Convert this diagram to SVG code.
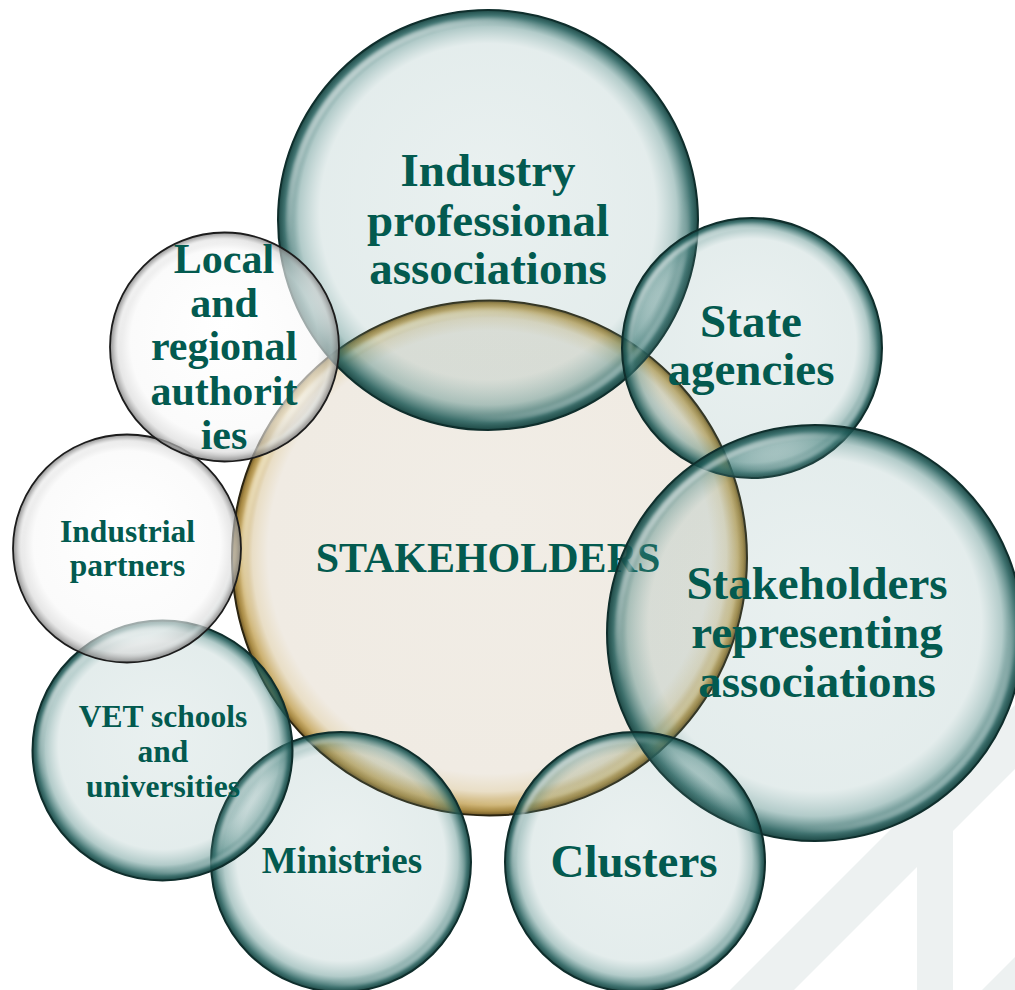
<svg xmlns="http://www.w3.org/2000/svg" width="1015" height="990" viewBox="0 0 1015 990">
<defs>
<style>
.lbl{font-family:"Liberation Serif","Times New Roman","DejaVu Serif",serif;font-weight:bold;fill:#035a4f;text-anchor:middle}
.teal{fill:url(#gTeal);stroke:#0f2e2c;stroke-width:2}
.white{fill:url(#gWhite);stroke:#1c1c1c;stroke-width:1.8}
.gold{fill:url(#gGold);stroke:#2b2410;stroke-width:2}
.hl{fill:none;stroke:url(#gHl);filter:url(#soft)}
.hlg{fill:none;stroke:url(#gHlGold);filter:url(#soft)}
.wm{fill:#edf1f1}
</style>
<radialGradient id="gTeal" cx="50%" cy="50%" r="50%" fx="50%" fy="40%">
<stop offset="0" stop-color="#6e9d9a" stop-opacity="0.15"/>
<stop offset="0.8" stop-color="#5f9390" stop-opacity="0.17"/>
<stop offset="0.9" stop-color="#3f7d79" stop-opacity="0.4"/>
<stop offset="0.97" stop-color="#1d5956" stop-opacity="0.85"/>
<stop offset="1" stop-color="#123f3c" stop-opacity="0.95"/>
</radialGradient>
<radialGradient id="gWhite" cx="50%" cy="50%" r="50%" fx="50%" fy="40%">
<stop offset="0" stop-color="#ffffff" stop-opacity="0.6"/>
<stop offset="0.82" stop-color="#f8f8f8" stop-opacity="0.62"/>
<stop offset="0.93" stop-color="#d6d6d6" stop-opacity="0.6"/>
<stop offset="1" stop-color="#7d7d7d" stop-opacity="0.85"/>
</radialGradient>
<radialGradient id="gGold" cx="50%" cy="50%" r="50%" fx="50%" fy="42%">
<stop offset="0" stop-color="#f1ede6"/>
<stop offset="0.86" stop-color="#f0ebe3"/>
<stop offset="0.92" stop-color="#e9dec6"/>
<stop offset="0.965" stop-color="#cdb273"/>
<stop offset="0.985" stop-color="#a98b45"/>
<stop offset="1" stop-color="#6e5727"/>
</radialGradient>
<linearGradient id="gHl" x1="0" y1="0" x2="1" y2="1">
<stop offset="0" stop-color="#ffffff" stop-opacity="0.9"/>
<stop offset="0.32" stop-color="#ffffff" stop-opacity="0"/>
<stop offset="0.72" stop-color="#ffffff" stop-opacity="0"/>
<stop offset="1" stop-color="#e8ffff" stop-opacity="0.7"/>
</linearGradient>
<linearGradient id="gHlGold" x1="0" y1="0" x2="1" y2="1">
<stop offset="0" stop-color="#fffbe6" stop-opacity="0.95"/>
<stop offset="0.35" stop-color="#fffbe6" stop-opacity="0"/>
<stop offset="0.72" stop-color="#fffbe6" stop-opacity="0"/>
<stop offset="1" stop-color="#fffbe6" stop-opacity="0.6"/>
</linearGradient>
<filter id="soft" x="-10%" y="-10%" width="120%" height="120%"><feGaussianBlur stdDeviation="1.6"/></filter>
</defs>

<g id="watermark">
<polygon class="wm" points="730,990 794,990 1015,769 1015,705"/>
<rect class="wm" x="917" y="812" width="36" height="178"/>
<polygon class="wm" points="982,990 1015,990 1015,957"/>
</g>

<g id="connectors"></g>

<g id="node-stakeholders">
<circle class="gold" cx="489.5" cy="558" r="257.5"/>
<circle class="hlg" cx="489.5" cy="558" r="246" stroke-width="6"/>
<text class="lbl" font-family="Liberation Serif, serif" x="488" y="572" font-size="42">STAKEHOLDERS</text>
</g>

<g id="node-industry">
<circle class="teal" cx="488" cy="220" r="210"/>
<circle class="hl" cx="488" cy="220" r="199" stroke-width="6"/>
<text class="lbl" font-family="Liberation Serif, serif" font-size="47"><tspan x="488" y="186">Industry</tspan><tspan x="488" y="236">professional</tspan><tspan x="488" y="284">associations</tspan></text>
</g>

<g id="node-state">
<circle class="teal" cx="752" cy="348" r="130"/>
<circle class="hl" cx="752" cy="348" r="122" stroke-width="5"/>
<text class="lbl" font-family="Liberation Serif, serif" font-size="47"><tspan x="751" y="337">State</tspan><tspan x="751" y="385">agencies</tspan></text>
</g>

<g id="node-representing">
<circle class="teal" cx="815" cy="633" r="208"/>
<circle class="hl" cx="815" cy="633" r="197" stroke-width="6"/>
<text class="lbl" font-family="Liberation Serif, serif" font-size="47"><tspan x="817" y="599">Stakeholders</tspan><tspan x="817" y="648">representing</tspan><tspan x="817" y="697">associations</tspan></text>
</g>

<g id="node-clusters">
<circle class="teal" cx="635" cy="862" r="130"/>
<circle class="hl" cx="635" cy="862" r="122" stroke-width="5"/>
<text class="lbl" font-family="Liberation Serif, serif" x="634" y="877" font-size="47">Clusters</text>
</g>

<g id="node-ministries">
<circle class="teal" cx="341" cy="862" r="130"/>
<circle class="hl" cx="341" cy="862" r="122" stroke-width="5"/>
<text class="lbl" font-family="Liberation Serif, serif" x="342" y="873" font-size="37">Ministries</text>
</g>

<g id="node-vet">
<circle class="teal" cx="162.5" cy="750.5" r="130"/>
<circle class="hl" cx="162.5" cy="750.5" r="122" stroke-width="5"/>
<text class="lbl" font-family="Liberation Serif, serif" font-size="31.5"><tspan x="163" y="727">VET schools</tspan><tspan x="163" y="762">and</tspan><tspan x="163" y="797">universities</tspan></text>
</g>

<g id="node-industrial-partners">
<circle class="white" cx="127" cy="548.5" r="114"/>
<circle class="hl" cx="127" cy="548.5" r="107" stroke-width="4"/>
<text class="lbl" font-family="Liberation Serif, serif" font-size="31.5"><tspan x="127.5" y="542">Industrial</tspan><tspan x="127.5" y="576">partners</tspan></text>
</g>

<g id="node-local">
<circle class="white" cx="224.5" cy="347" r="114.5"/>
<circle class="hl" cx="224.5" cy="347" r="107" stroke-width="4"/>
<text class="lbl" font-family="Liberation Serif, serif" font-size="42"><tspan x="224" y="273">Local</tspan><tspan x="224" y="317">and</tspan><tspan x="224" y="360">regional</tspan><tspan x="224" y="405">authorit</tspan><tspan x="224" y="449">ies</tspan></text>
</g>
</svg>
